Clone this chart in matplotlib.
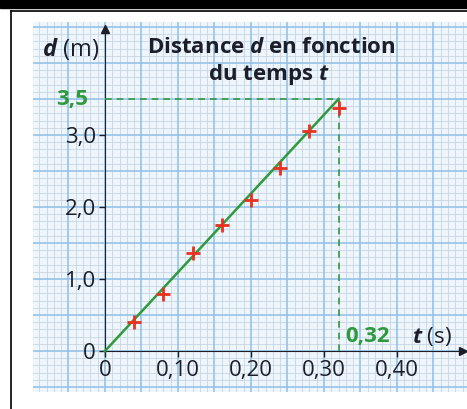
import numpy as np
import matplotlib.pyplot as plt
from matplotlib.patches import Rectangle
from matplotlib.lines import Line2D

plt.rcParams['font.family'] = ['Open Sans', 'DejaVu Sans']
plt.rcParams['mathtext.fontset'] = 'custom'
plt.rcParams['mathtext.it'] = 'Open Sans:italic:bold'
plt.rcParams['mathtext.rm'] = 'Open Sans'

# mesures (temps en s, distance en m)
temps = [0.04, 0.08, 0.12, 0.16, 0.20, 0.24, 0.28, 0.32]
distance = [0.40, 0.79, 1.36, 1.75, 2.10, 2.54, 3.05, 3.38]
droite_t = [0, 0.32]
droite_d = [0, 3.5]
xticks = [0, 0.1, 0.2, 0.3, 0.4]
xlabels = ["0", "0,10", "0,20", "0,30", "0,40"]
yticks = [0, 1, 2, 3]
ylabels = ["0", "1,0", "2,0", "3,0"]

green = '#2f9a3c'
red = '#e8311f'
dark = '#1c1f2a'
fs = 16

fig = plt.figure(figsize=(4.67, 4.09), dpi=100)
fig.patch.set_facecolor('white')

# cadre du document
fig.patches.append(Rectangle((0, 1 - 8/409), 1, 8/409, transform=fig.transFigure, color='black'))
fig.lines.append(Line2D([10.5/467, 1], [1 - 10.5/409] * 2, transform=fig.transFigure, color='black', lw=1.2))
fig.lines.append(Line2D([10.5/467] * 2, [0, 1 - 10.5/409], transform=fig.transFigure, color='black', lw=1.2))

ax = fig.add_axes([33/467, 17/409, 434/467, 370/409])
ax.set_facecolor('#eef6fc')
ax.set_xlim(-0.0986, 0.496)
ax.set_ylim(-0.569, 4.57)

# papier millimetre
for i in range(-9, 50):
    if i % 5 == 0:
        ax.axvline(i / 100, color='#90bfe6', lw=1.1, zorder=1)
    else:
        ax.axvline(i / 100, color='#c6d6e4', lw=0.6, zorder=0.5)
for j in range(-5, 46):
    if j % 5 == 0:
        ax.axhline(j / 10, color='#90bfe6', lw=1.1, zorder=1)
    else:
        ax.axhline(j / 10, color='#c6d6e4', lw=0.6, zorder=0.5)

# axes
for s in ['top', 'right']:
    ax.spines[s].set_visible(False)
ax.spines['left'].set_position(('data', 0))
ax.spines['bottom'].set_position(('data', 0))
ax.spines['left'].set_bounds(0, 4.45)
ax.spines['bottom'].set_bounds(0, 0.485)
ax.spines['left'].set_color(dark)
ax.spines['bottom'].set_color(dark)
ax.spines['left'].set_zorder(3)
ax.spines['bottom'].set_zorder(3)
ax.plot(0, 4.47, marker='^', color=dark, markersize=6, clip_on=False, zorder=4)
ax.plot(0.49, 0, marker='>', color=dark, markersize=6, clip_on=False, zorder=4)

ax.set_xticks(xticks)
ax.set_xticklabels(xlabels)
ax.set_yticks(yticks)
ax.set_yticklabels(ylabels)
ax.tick_params(axis='both', colors=dark, labelsize=fs, length=4.5, width=1)
ax.tick_params(axis='x', pad=2)
ax.tick_params(axis='y', pad=2)

# droite et points
ax.plot(droite_t, droite_d, color=green, lw=1.8, zorder=5)
ax.plot(temps, distance, '+', color=red, markersize=10, mew=2, zorder=6)

# lecture graphique
ax.plot([0, 0.32], [3.5, 3.5], '--', color=green, lw=1.2, dashes=(4, 3), zorder=4)
ax.plot([0.32, 0.32], [0, 3.5], '--', color=green, lw=1.2, dashes=(4, 3), zorder=4)
ax.text(-0.023, 3.5, "3,5", color=green, fontsize=fs, fontweight='bold', ha='right', va='center')
ax.text(0.329, 0.2, "0,32", color=green, fontsize=fs, fontweight='bold', ha='left', va='center')

# etiquettes
ax.text(-0.008, 4.2, r"$d$ (m)", color=dark, fontsize=fs + 1, ha='right', va='center')
ax.text(0.42, 0.2, r"$t$ (s)", color=dark, fontsize=fs, ha='left', va='center')
ax.text(0.228, 4.22, r"Distance $d$ en fonction", color=dark, fontsize=fs, fontweight='bold', ha='center', va='center')
ax.text(0.224, 3.84, r"du temps $t$", color=dark, fontsize=fs, fontweight='bold', ha='center', va='center')

fig.savefig('out.png', dpi=100)
